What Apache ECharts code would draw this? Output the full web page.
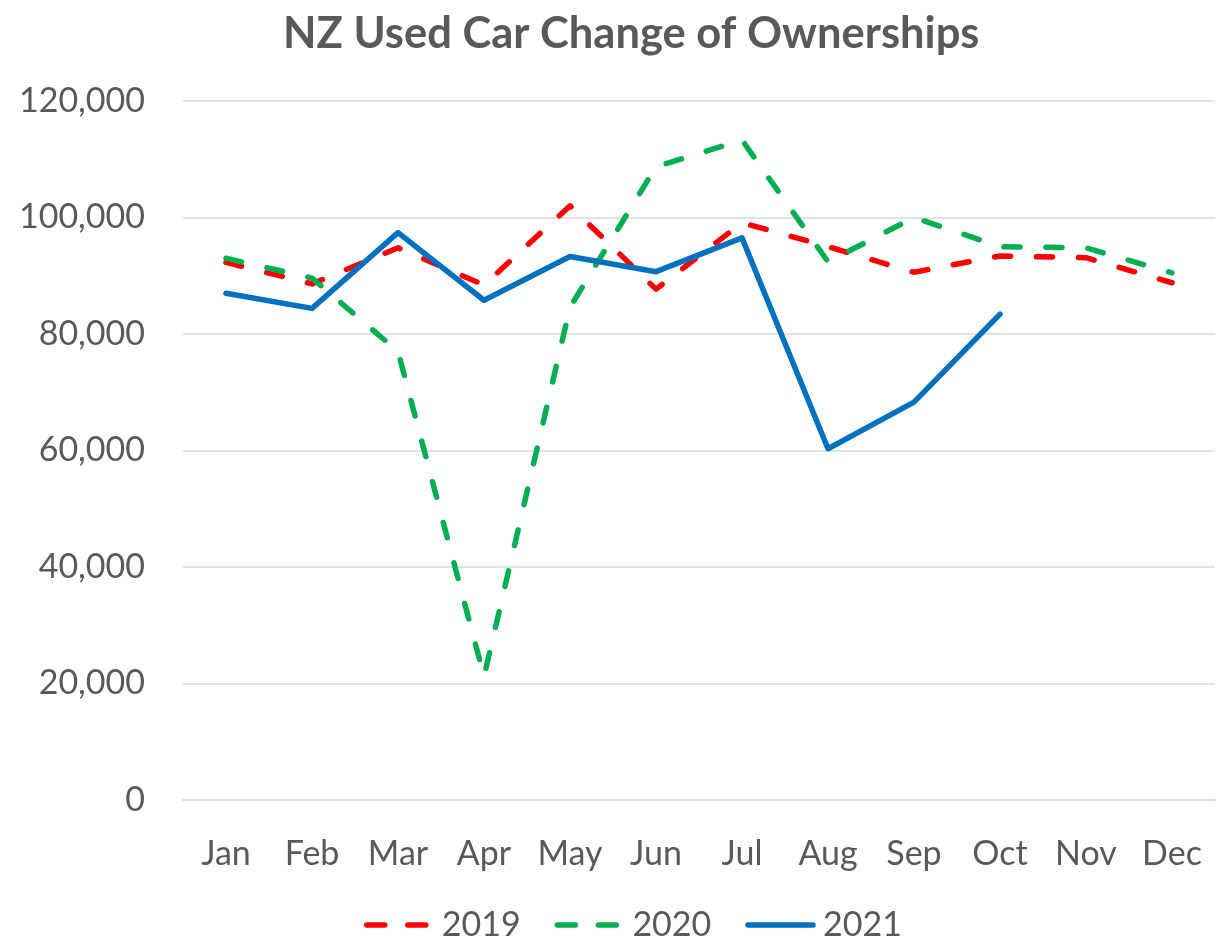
<!DOCTYPE html>
<html>
<head>
<meta charset="utf-8">
<title>NZ Used Car Change of Ownerships</title>
<script src="https://cdn.jsdelivr.net/npm/echarts@6/dist/echarts.min.js"></script>
<style>
  html, body { margin: 0; padding: 0; background: #fff; }
  #chart { width: 1220px; height: 938px; }
</style>
</head>
<body>
<div id="chart"></div>
<script>
var months = ['Jan', 'Feb', 'Mar', 'Apr', 'May', 'Jun', 'Jul', 'Aug', 'Sep', 'Oct', 'Nov', 'Dec'];
var y2019 = [92300, 88600, 94800, 88400, 102000, 87700, 99100, 95000, 90600, 93400, 93100, 88800];
var y2020 = [93000, 89600, 77000, 21200, 84600, 108700, 113300, 92400, 100000, 95000, 94800, 90500];
var y2021 = [87000, 84400, 97400, 85800, 93300, 90700, 96500, 60300, 68300, 83400, null, null];
var yTicks = [0, 20000, 40000, 60000, 80000, 100000, 120000];

var FONT = 'Lato';
var TXT = '#595959';
var COLORS = { '2019': '#ff0000', '2020': '#00b050', '2021': '#0070c0' };

function lineSeries(name, data, dashed) {
  return {
    name: name,
    type: 'line',
    data: data,
    symbol: 'none',
    connectNulls: false,
    lineStyle: {
      color: COLORS[name],
      width: 5.5,
      type: dashed ? [16, 26] : 'solid',
      cap: 'round',
      join: 'round'
    },
    itemStyle: { color: COLORS[name] }
  };
}

// legend entries: thick line icon, no dot
function legendItem(name, dashed) {
  return {
    name: name,
    itemStyle: { opacity: 0 },
    lineStyle: {
      color: COLORS[name],
      width: 5.5,
      type: dashed ? [18, 23] : 'solid',
      cap: 'round'
    }
  };
}

var myChart = echarts.init(document.getElementById('chart'));
var option = {
  animation: false,
  backgroundColor: '#fff',
  title: {
    text: 'NZ Used Car Change of Ownerships',
    left: 278,
    top: 7,
    textStyle: {
      fontFamily: FONT,
      fontSize: 43.5,
      fontWeight: 'bold',
      color: TXT
    }
  },
  legend: {
    top: 903,
    left: 359,
    itemWidth: 65,
    itemHeight: 14,
    itemGap: 34,
    itemStyle: { opacity: 0 },
    textStyle: {
      fontFamily: FONT,
      fontSize: 34,
      color: TXT,
      padding: [0, 0, 0, 5]
    },
    data: [legendItem('2019', true), legendItem('2020', true), legendItem('2021', false)]
  },
  grid: {
    left: 183,
    right: 5,
    top: 101,
    bottom: 138,
    containLabel: false
  },
  xAxis: {
    type: 'category',
    data: months,
    boundaryGap: true,
    axisLine: { lineStyle: { color: '#d9d9d9', width: 1.5 } },
    axisTick: { show: false },
    axisLabel: {
      fontFamily: FONT,
      fontSize: 34,
      color: TXT,
      margin: 37,
      interval: 0
    }
  },
  yAxis: {
    type: 'value',
    min: yTicks[0],
    max: yTicks[yTicks.length - 1],
    interval: 20000,
    axisLine: { show: false },
    axisTick: { show: false },
    splitLine: { lineStyle: { color: '#d9d9d9', width: 1.5 } },
    axisLabel: {
      fontFamily: FONT,
      fontSize: 34,
      color: TXT,
      margin: 38,
      formatter: function (v) {
        return v.toLocaleString('en-US');
      }
    }
  },
  series: [
    lineSeries('2019', y2019, true),
    lineSeries('2020', y2020, true),
    lineSeries('2021', y2021, false)
  ]
};
myChart.setOption(option);
window.addEventListener('resize', function () {
  myChart.resize();
});
</script>
</body>
</html>
